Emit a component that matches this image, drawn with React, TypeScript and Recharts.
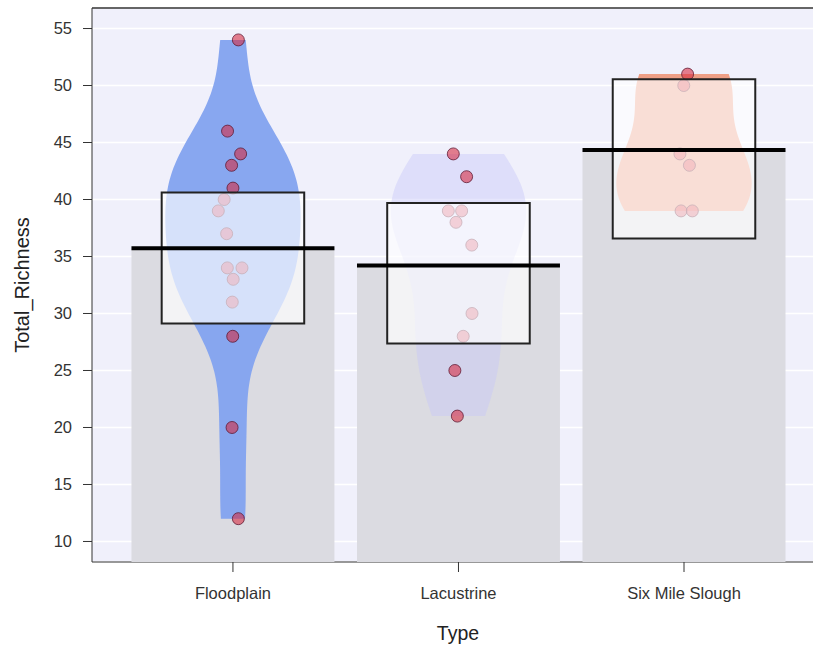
import React from 'react';
import { ScatterChart, Scatter, XAxis, YAxis, CartesianGrid, ReferenceLine, Polygon } from 'recharts';

const categories = ['Floodplain', 'Lacustrine', 'Six Mile Slough'];
const categoryPositions = [1, 2, 3];

const floodplainValues = [54, 46, 44, 43, 41, 40, 39, 37, 34, 34, 33, 31, 28, 20, 12];
const floodplainJitter = [0.024, -0.024, 0.034, -0.006, 0, -0.039, -0.065, -0.028, -0.025, 0.04, 0.001, -0.003, -0.001, -0.004, 0.024];
const lacustrineValues = [44, 42, 39, 39, 38, 36, 30, 28, 25, 21];
const lacustrineJitter = [-0.023, 0.036, -0.045, 0.014, -0.011, 0.059, 0.06, 0.021, -0.016, -0.005];
const sixMileValues = [51, 50, 44, 43, 39, 39];
const sixMileJitter = [0.016, -0.001, -0.018, 0.024, -0.013, 0.037];

const boxLow = [29.12, 27.36, 36.57];
const boxHigh = [40.61, 39.7, 50.54];

const yTicks = [10, 15, 20, 25, 30, 35, 40, 45, 50, 55];
const yDomain = [8.2, 56.8];
const xDomain = [0.375, 3.572];

const beanColors = ['rgba(132,164,240,0.97)', 'rgba(200,200,248,0.45)', 'rgba(238,159,134,1)'];
const barColor = '#DBDBE1';
const bgColor = '#F0F0FB';

const BAR_HALF = 0.45;
const BEAN_HALF = 0.3;
const BOX_HALF = 0.316;

const groupValues = [floodplainValues, lacustrineValues, sixMileValues];
const groupJitter = [floodplainJitter, lacustrineJitter, sixMileJitter];

function mean(v: number[]) {
  return v.reduce((a, b) => a + b, 0) / v.length;
}
function quantile7(sorted: number[], p: number) {
  const h = (sorted.length - 1) * p;
  const lo = Math.floor(h);
  const hi = Math.ceil(h);
  return sorted[lo] + (h - lo) * (sorted[hi] - sorted[lo]);
}
function bwNrd0(v: number[]) {
  const s = [...v].sort((a, b) => a - b);
  const m = mean(v);
  const sd = Math.sqrt(v.reduce((a, b) => a + (b - m) * (b - m), 0) / (v.length - 1));
  const iqr = quantile7(s, 0.75) - quantile7(s, 0.25);
  const lo = Math.min(sd, iqr / 1.34);
  return 0.9 * lo * Math.pow(v.length, -0.2);
}
function beanOutline(values: number[], center: number) {
  const bw = bwNrd0(values);
  const lo = Math.min(...values);
  const hi = Math.max(...values);
  const steps = 150;
  const ys: number[] = [];
  for (let i = 0; i <= steps; i++) ys.push(lo + ((hi - lo) * i) / steps);
  const dens = ys.map((y) => values.reduce((a, v) => a + Math.exp(-0.5 * ((y - v) / bw) ** 2), 0));
  const mx = Math.max(...dens);
  const right = ys.map((y, i) => ({ x: center + (dens[i] / mx) * BEAN_HALF, y }));
  const left = ys.map((y, i) => ({ x: center - (dens[i] / mx) * BEAN_HALF, y })).reverse();
  return [...right, ...left];
}

const means = groupValues.map(mean);
const barData = categoryPositions.map((c, i) => [
  { x: c - BAR_HALF, y: yDomain[0] },
  { x: c + BAR_HALF, y: yDomain[0] },
  { x: c + BAR_HALF, y: means[i] },
  { x: c - BAR_HALF, y: means[i] },
]);
const beanData = categoryPositions.map((c, i) => beanOutline(groupValues[i], c));
const pointData = categoryPositions.map((c, i) =>
  groupValues[i].map((v, j) => ({ x: c + groupJitter[i][j], y: v }))
);
const boxData = categoryPositions.map((c, i) => [
  { x: c - BOX_HALF, y: boxLow[i] },
  { x: c + BOX_HALF, y: boxLow[i] },
  { x: c + BOX_HALF, y: boxHigh[i] },
  { x: c - BOX_HALF, y: boxHigh[i] },
]);
const meanData = categoryPositions.map((c, i) => [
  { x: c - BAR_HALF, y: means[i] },
  { x: c + BAR_HALF, y: means[i] },
]);

const hidden = () => <g />;
const polyLine = (fill: string, stroke = 'none', strokeWidth = 0) => (props: any) => (
  <Polygon points={props.points} fill={fill} stroke={stroke} strokeWidth={strokeWidth} />
);
const dot = (props: any) => (
  <circle cx={props.cx} cy={props.cy} r={6} fill="rgba(214,40,62,0.58)" stroke="rgba(90,20,45,0.75)" strokeWidth={1} />
);

export default function App() {
  return (
    <div style={{ position: 'absolute', left: 0, top: 0, width: 813, height: 649, overflow: 'hidden', fontFamily: '"Liberation Sans", Arial, sans-serif' }}>
      <ScatterChart width={813} height={649} margin={{ top: 8, right: 0, left: 0, bottom: 0 }}>
        <CartesianGrid vertical={false} stroke="#FFFFFF" strokeWidth={1.5} fill={bgColor} fillOpacity={1} />
        <XAxis
          type="number"
          dataKey="x"
          domain={xDomain}
          allowDataOverflow
          ticks={categoryPositions}
          interval={0}
          tickFormatter={(v: number) => categories[Math.round(v) - 1]}
          height={87}
          tickSize={10}
          tickMargin={15}
          axisLine={{ stroke: '#333' }}
          tickLine={{ stroke: '#333' }}
          tick={{ fontSize: 16.5, fill: '#333' }}
          label={{ value: 'Type', position: 'insideBottom', offset: 9, dx: 5.5, fontSize: 19.5, fill: '#222' }}
        />
        <YAxis
          type="number"
          dataKey="y"
          domain={yDomain}
          allowDataOverflow
          ticks={yTicks}
          interval={0}
          width={92}
          tickSize={9}
          tickMargin={11}
          axisLine={{ stroke: '#333' }}
          tickLine={{ stroke: '#333' }}
          tick={{ fontSize: 16.5, fill: '#333' }}
          label={{ value: 'Total_Richness', angle: -90, position: 'center', dx: -24, fontSize: 20, fill: '#222' }}
        />
        <ReferenceLine y={yDomain[1]} stroke="#333" strokeWidth={1.5} />
        {barData.map((d, i) => (
          <Scatter key={'bar' + i} data={d} shape={hidden} line={polyLine(barColor)} isAnimationActive={false} />
        ))}
        {beanData.map((d, i) => (
          <Scatter key={'bean' + i} data={d} shape={hidden} line={polyLine(beanColors[i])} isAnimationActive={false} />
        ))}
        {pointData.map((d, i) => (
          <Scatter key={'pts' + i} data={d} shape={dot} isAnimationActive={false} />
        ))}
        {boxData.map((d, i) => (
          <Scatter key={'box' + i} data={d} shape={hidden} line={polyLine('rgba(255,255,255,0.66)', '#222', 2)} isAnimationActive={false} />
        ))}
        {meanData.map((d, i) => (
          <Scatter key={'mean' + i} data={d} shape={hidden} line={{ stroke: '#000', strokeWidth: 4 }} isAnimationActive={false} />
        ))}
      </ScatterChart>
    </div>
  );
}
